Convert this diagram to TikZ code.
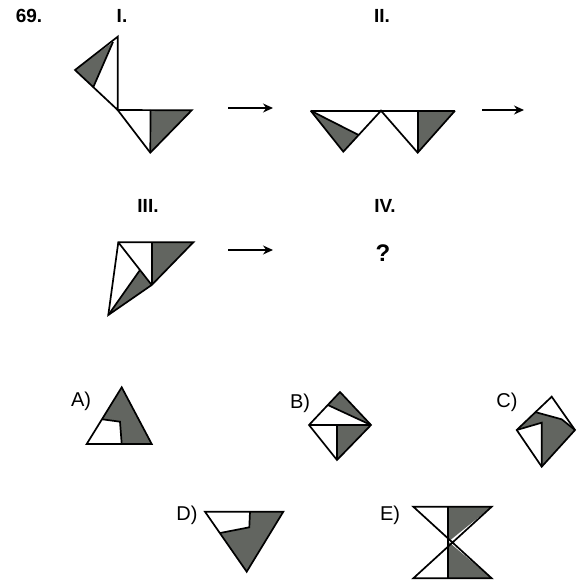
\documentclass[tikz,border=0pt]{standalone}
\usepackage{fontspec}
\setmainfont{Liberation Sans}
\usetikzlibrary{arrows.meta}
\definecolor{figgray}{RGB}{98,101,96}

\tikzset{
  fig/.style={line width=1.7pt, line join=miter},
  dark/.style={fill=figgray},
  arr/.style={line width=1.4pt, -{Stealth[length=10pt,width=9pt]}},
  hdr/.style={font=\bfseries\fontsize{19}{19}\selectfont},
  opt/.style={font=\fontsize{20}{20}\selectfont}
}

\begin{document}
\begin{tikzpicture}[x=1pt,y=-1pt]
\useasboundingbox (0,0) rectangle (579,583);

% headings
\node[hdr] (n69) at (29,16) {69.};
\node[hdr] (h1) at (122,16) {I.};
\node[hdr] (h2) at (382,16) {II.};
\node[hdr] (h3) at (148,206) {III.};
\node[hdr] (h4) at (385,206) {IV.};
\node[hdr,font=\bfseries\fontsize{24}{24}\selectfont] (qm) at (383,253) {?};

% arrows
\coordinate (a1s) at (228,108); \coordinate (a1e) at (273,108);
\coordinate (a2s) at (482,110); \coordinate (a2e) at (524,110);
\coordinate (a3s) at (228,250); \coordinate (a3e) at (273,250);
\draw[arr] (a1s) -- (a1e);
\draw[arr] (a2s) -- (a2e);
\draw[arr] (a3s) -- (a3e);

% figure I
\path[dark] (75,70) -- (113,42) -- (93.4,86.9) -- cycle;
\path[dark] (150.5,110) -- (191.7,110.3) -- (150.3,152.7) -- cycle;
\draw[fig] (117.7,36.7) -- (75,70) -- (117.7,110) -- cycle;
\draw[fig] (113,42) -- (93.4,86.9);
\draw[fig] (117.7,110) -- (191.7,110.3) -- (150.3,152.7) -- cycle;
\draw[fig] (150.5,110) -- (150.3,152.7);

% figure II
\path[dark] (310.7,110.7) -- (358.6,135) -- (343.3,151.7) -- cycle;
\path[dark] (417.7,110.7) -- (455,110.7) -- (417.7,152.7) -- cycle;
\draw[fig] (310.7,110.7) -- (455,110.7);
\draw[fig] (310.7,110.7) -- (343.3,151.7) -- (381,110.7) -- (417.7,152.7) -- (455,110.7);
\draw[fig] (310.7,110.7) -- (358.6,135);
\draw[fig] (417.7,110.7) -- (417.7,152.7);

% figure III
\path[dark] (151.7,242.3) -- (193.3,242.3) -- (151.7,285) -- cycle;
\path[dark] (140,270) -- (151.7,285) -- (108.3,315) -- cycle;
\draw[fig] (118.3,242.3) -- (193.3,242.3) -- (151.7,285) -- (108.3,315) -- cycle;
\draw[fig] (151.7,242.3) -- (151.7,285);
\draw[fig] (118.3,242.3) -- (151.7,285);
\draw[fig] (140,270) -- (108.3,315);

% option A
\node[opt] (la) at (81,401) {A)};
\path[dark] (121.7,387.3) -- (151.7,444) -- (86.7,444) -- cycle;
\fill[white] (86.7,444) -- (102.3,419.3) -- (120,421.7) -- (121.7,444) -- cycle;
\draw[fig] (102.3,419.3) -- (120,421.7) -- (121.7,444);
\draw[fig] (121.7,387.3) -- (151.7,444) -- (86.7,444) -- cycle;

% option B
\node[opt] (lb) at (300,403) {B)};
\path[dark] (340,392) -- (327.8,405) -- (371,425) -- cycle;
\path[dark] (337,425) -- (371,425) -- (337,460) -- cycle;
\draw[fig] (340,392) -- (371,425) -- (337,460) -- (309,425) -- cycle;
\draw[fig] (309,425) -- (371,425);
\draw[fig] (327.8,405) -- (371,425);
\draw[fig] (337,425) -- (337,460);

% option C
\node[opt] (lc) at (507,402) {C)};
\path[dark] (535,412) -- (561.7,419.3) -- (575,430) -- (541.7,466.7) -- (541.7,422.7) -- (516.7,430) -- cycle;
\draw[fig] (551.7,396.7) -- (575,430) -- (541.7,466.7) -- (516.7,430) -- cycle;
\draw[fig] (535,412) -- (561.7,419.3) -- (575,430);
\draw[fig] (516.7,430) -- (541.7,422.7) -- (541.7,466.7);

% option D
\node[opt] (ld) at (187,515) {D)};
\path[dark] (205,511.7) -- (283.3,511.7) -- (246.7,571.7) -- cycle;
\fill[white] (205,511.7) -- (250,511.7) -- (249.3,527.3) -- (220,533) -- cycle;
\draw[fig] (250,511.7) -- (249.3,527.3) -- (220,533);
\draw[fig] (205,511.7) -- (283.3,511.7) -- (246.7,571.7) -- cycle;

% option E
\node[opt] (le) at (390,515) {E)};
\path[dark] (448.3,506.7) -- (491.7,506.7) -- (448.3,541.7) -- cycle;
\path[dark] (448.3,541.7) -- (491.7,578.3) -- (448.3,578.3) -- cycle;
\draw[fig] (413.3,506.7) -- (491.7,506.7) -- (413.3,578.3) -- (491.7,578.3) -- cycle;
\draw[fig] (448.3,506.7) -- (448.3,578.3);
\end{tikzpicture}
\end{document}
